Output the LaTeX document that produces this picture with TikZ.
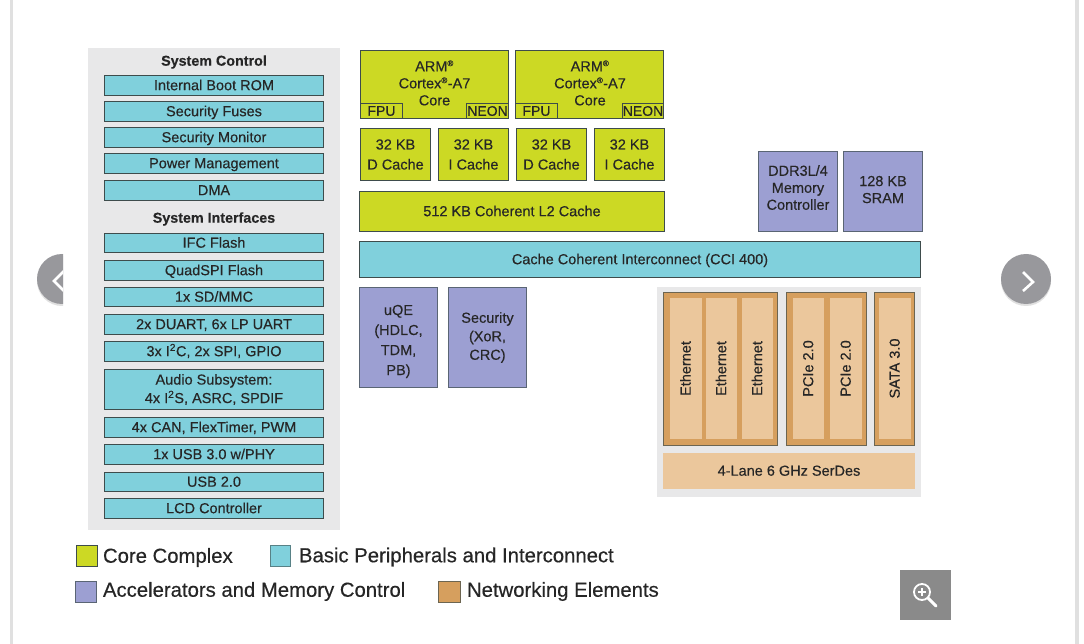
\documentclass[tikz,border=0pt]{standalone}
\usepackage{fontspec}
\setmainfont{Liberation Sans}[RawFeature={embolden=0.35}]
\definecolor{txt}{HTML}{262626}
\definecolor{edge}{HTML}{3E4C4C}
\definecolor{corec}{HTML}{CCD924}
\definecolor{peri}{HTML}{80D0DC}
\definecolor{accel}{HTML}{9C9FD2}
\definecolor{netout}{HTML}{D69F5E}
\definecolor{netin}{HTML}{EBC79C}
\definecolor{panel}{HTML}{E8E8E9}
\definecolor{navg}{HTML}{98989C}
\definecolor{zoomg}{HTML}{8A8A8A}
\definecolor{bar}{HTML}{E0E0E0}
\tikzset{
  x=1pt,y=-1pt,
  base/.style={inner sep=0pt,outer sep=0pt,align=center,text=txt,font=\fontsize{14.5}{17}\selectfont},
  one/.style={text height=13pt,text depth=3.6pt},
  gapmid/.style={font=\fontsize{14.5}{18.5}\selectfont},
  gapwide/.style={font=\fontsize{14.5}{20}\selectfont},
  small/.style={font=\fontsize{14}{15}\selectfont},
  corebox/.style={base,draw=edge,line width=1.3pt,fill=corec},
  peribox/.style={base,draw=edge,line width=1.3pt,fill=peri},
  accelbox/.style={base,draw=edge!70!accel,line width=1.3pt,fill=accel},
  netbox/.style={base,draw=edge!70!netout,line width=1.3pt,fill=netout},
  innerbox/.style={base,draw=netin,line width=1.3pt,fill=netin},
  panelbox/.style={base,draw=panel,line width=1.3pt,fill=panel},
  heading/.style={base,font=\fontsize{14.3}{17}\selectfont\bfseries},
  legendtext/.style={base,anchor=west,font=\fontsize{20.3}{24}\selectfont},
}
% name, style, x1, y1, x2, y2, text  (the coordinates are the outer edges of the outline)
\newcommand\bx[7]{%
  \pgfmathsetmacro\cxx{(#3+#5)/2}\pgfmathsetmacro\cyy{(#4+#6)/2}%
  \pgfmathsetmacro\www{#5-#3-1.3}\pgfmathsetmacro\hhh{#6-#4-1.3}%
  \node[#2,minimum width=\www pt,minimum height=\hhh pt] (#1) at (\cxx,\cyy) {#7};}
\newcommand\vbx[7]{%
  \pgfmathsetmacro\cxx{(#3+#5)/2}\pgfmathsetmacro\cyy{(#4+#6)/2}%
  \pgfmathsetmacro\www{#5-#3-1.3}\pgfmathsetmacro\hhh{#6-#4-1.3}%
  \node[#2,rotate=90,minimum width=\hhh pt,minimum height=\www pt] (#1) at (\cxx,\cyy) {#7};}
\newcommand\reg{\textsuperscript{\fontsize{8}{8}\selectfont ®}}
\newcommand\dnsp[1]{\rule[-#1]{0pt}{#1}}
\newcommand\upsp[1]{\rule{0pt}{#1}}
\begin{document}
\begin{tikzpicture}
\useasboundingbox (0,0) rectangle (1084,644);
\fill[white] (0,0) rectangle (1084,644);
\fill[bar] (10,0) rectangle (13,644);
\fill[bar] (1075,0) rectangle (1079,644);

% side panel
\bx{sidepanel}{panelbox}{88}{48}{340}{530}{}
\node[heading] (hctrl) at (214,62) {System Control};
\bx{rom}{peribox,one}{104}{75}{324}{96}{Internal Boot ROM}
\bx{fuses}{peribox,one}{104}{101}{324}{122}{Security Fuses}
\bx{monitor}{peribox,one}{104}{127}{324}{148}{Security Monitor}
\bx{power}{peribox,one}{104}{153}{324}{174}{Power Management}
\bx{dma}{peribox,one}{104}{180}{324}{201}{DMA}
\node[heading] (hif) at (214,219) {System Interfaces};
\bx{ifc}{peribox,one}{104}{233}{324}{253}{IFC Flash}
\bx{qspi}{peribox,one}{104}{260}{324}{281}{QuadSPI Flash}
\bx{sd}{peribox,one}{104}{287}{324}{307}{1x SD/MMC}
\bx{duart}{peribox,one}{104}{314}{324}{335}{2x DUART, 6x LP UART}
\bx{iic}{peribox,one}{104}{341}{324}{362}{3x I\textsuperscript{2}C, 2x SPI, GPIO}
\bx{audio}{peribox,gapmid}{104}{369}{324}{410}{Audio Subsystem:\\4x I\textsuperscript{2}S, ASRC, SPDIF}
\bx{can}{peribox,one}{104}{417}{324}{438}{4x CAN, FlexTimer, PWM}
\bx{usbiii}{peribox,one}{104}{444}{324}{465}{1x USB 3.0 w/PHY}
\bx{usbii}{peribox,one}{104}{472}{324}{492}{USB 2.0}
\bx{lcd}{peribox,one}{104}{498}{324}{519}{LCD Controller}

% cores
\bx{coreA}{corebox}{360}{50}{509}{119}{}
\node[base] (coreAt) at (434.5,83) {ARM\reg\\Cortex\reg-A7\\Core};
\bx{fpuA}{corebox,small}{360}{103}{403}{119}{FPU}
\bx{neonA}{corebox,small}{466}{103}{509}{119}{NEON}
\bx{coreB}{corebox}{515}{50}{664}{119}{}
\node[base] (coreBt) at (590,83) {ARM\reg\\Cortex\reg-A7\\Core};
\bx{fpuB}{corebox,small}{515}{103}{558}{119}{FPU}
\bx{neonB}{corebox,small}{622}{103}{664}{119}{NEON}

\bx{dcA}{corebox,gapwide}{360}{128}{431}{181}{32 KB\\D Cache}
\bx{icA}{corebox,gapwide}{438}{128}{509}{181}{32 KB\\I Cache}
\bx{dcB}{corebox,gapwide}{516}{128}{587}{181}{32 KB\\D Cache}
\bx{icB}{corebox,gapwide}{594}{128}{665}{181}{32 KB\\I Cache}
\bx{ltwo}{corebox,one}{359}{191}{665}{232}{512 KB Coherent L2 Cache}

\bx{ddr}{accelbox}{758}{151}{838}{232}{DDR3L/4\\Memory\\Controller\dnsp{8pt}}
\bx{sram}{accelbox}{843}{151}{923}{232}{128 KB\\SRAM\dnsp{4pt}}
\bx{cci}{peribox,one}{359}{241}{921}{278}{Cache Coherent Interconnect (CCI 400)}
\bx{uqe}{accelbox,gapwide}{359}{287}{438}{388}{\upsp{18pt}uQE\\(HDLC,\\TDM,\\PB)}
\bx{sec}{accelbox,gapmid}{448}{287}{527}{388}{Security\\(XoR,\\CRC)}

% networking
\bx{netpanel}{panelbox}{657}{287}{921}{497}{}
\bx{ethouter}{netbox}{663}{292}{778}{446}{}
\vbx{ethA}{innerbox,one}{670}{298}{702}{439}{Ethernet}
\vbx{ethB}{innerbox,one}{706}{298}{737}{439}{Ethernet}
\vbx{ethC}{innerbox,one}{742}{298}{773}{439}{Ethernet}
\bx{pcieouter}{netbox}{786}{292}{867}{446}{}
\vbx{pcieA}{innerbox,one}{793}{298}{824}{439}{PCIe 2.0}
\vbx{pcieB}{innerbox,one}{830}{298}{862}{439}{PCIe 2.0}
\bx{sataouter}{netbox}{874}{292}{915}{446}{}
\vbx{sata}{innerbox,one}{879}{298}{911}{439}{SATA 3.0}
\bx{serdes}{innerbox,one}{663}{453}{915}{489}{4-Lane 6 GHz SerDes}

% legend
\bx{swCore}{corebox}{76}{545}{98}{567}{}
\node[legendtext] (lgCore) at (103,557.5) {Core Complex};
\bx{swPeri}{peribox,draw=edge!60!peri}{270}{545}{291}{567}{}
\node[legendtext] (lgPeri) at (299,557) {Basic Peripherals and Interconnect};
\bx{swAccel}{accelbox}{75}{581}{97}{603}{}
\node[legendtext] (lgAccel) at (103,591.5) {Accelerators and Memory Control};
\bx{swNet}{netbox}{438}{581}{461}{603}{}
\node[legendtext] (lgNet) at (467,591.5) {Networking Elements};

% carousel controls
\begin{scope}
\clip (30,250) rectangle (63,310);
\fill[black!12] (62,281) circle (25);
\fill[navg] (62,279) circle (25);
\draw[white,line width=2.6pt] (64,271) -- (54,281) -- (64,291);
\end{scope}
\fill[black!12] (1026,281) circle (25);
\fill[navg] (1026,279) circle (25);
\draw[white,line width=2.6pt] (1023,272) -- (1033,282) -- (1023,291);

% zoom button
\fill[zoomg] (900,570) rectangle (951,620);
\draw[white,line width=1.8pt] (922,592) circle (8);
\draw[white,line width=1.3pt] (918,592) -- (926,592) (922,588) -- (922,596);
\draw[white,line width=3pt,line cap=round] (928,598) -- (936,606);
\end{tikzpicture}
\end{document}
